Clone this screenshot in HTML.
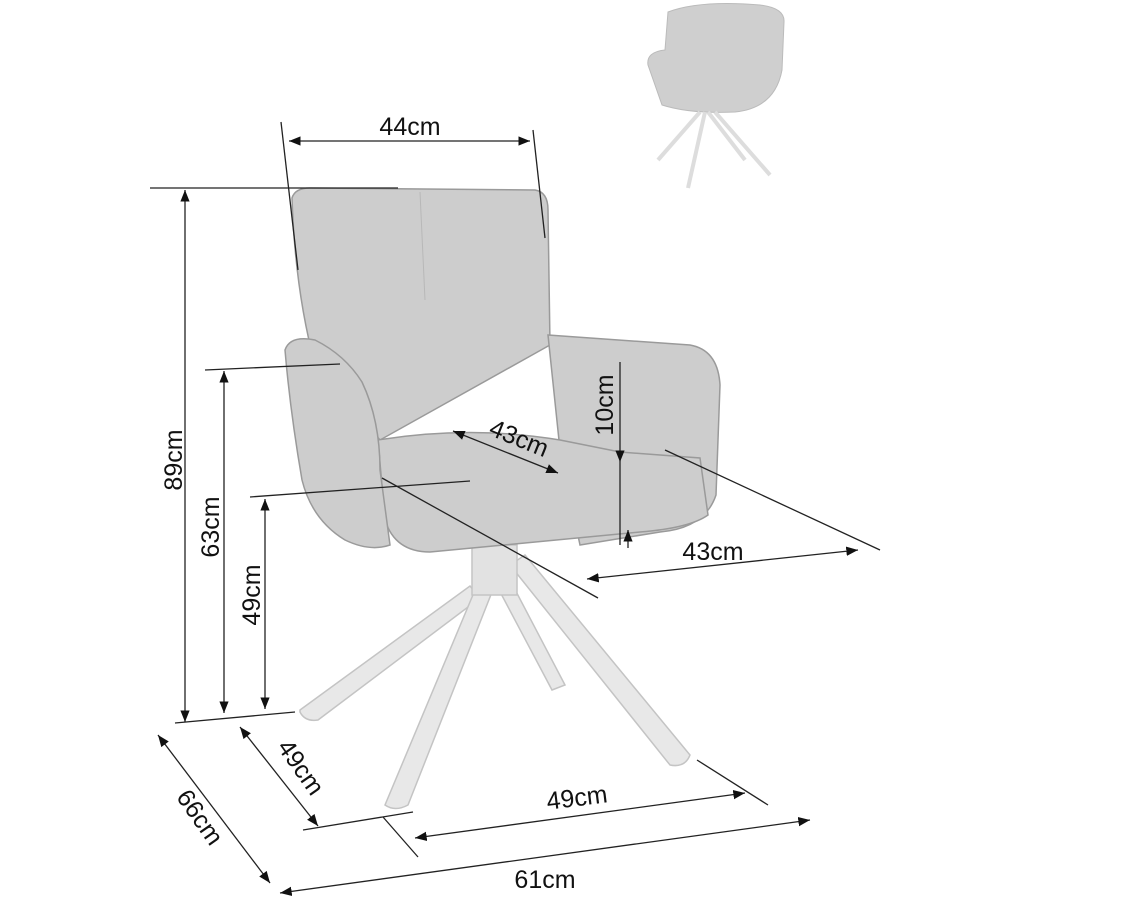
<!DOCTYPE html>
<html><head><meta charset="utf-8"><style>
html,body{margin:0;padding:0;background:#fff;}
svg{display:block;}
text{font-family:"Liberation Sans",sans-serif;font-size:25px;fill:#111;}
</style></head><body>
<svg width="1123" height="907" viewBox="0 0 1123 907" xmlns="http://www.w3.org/2000/svg">
<defs>
<marker id="a" viewBox="0 0 10 10" refX="10" refY="5" markerWidth="9" markerHeight="9" orient="auto-start-reverse"><path d="M0,1 L10,5 L0,9 z" fill="#111"/></marker>
</defs>
<!-- small chair top right -->
<g fill="#cfcfcf" stroke="#bbb" stroke-width="1">
<path d="M668,12 Q700,0 760,5 Q785,8 784,22 L782,70 Q775,108 735,112 Q690,114 662,105 L648,65 Q646,52 665,50 z"/>
</g>
<g stroke="#ddd" stroke-width="4" fill="none">
<line x1="700" y1="112" x2="658" y2="160"/><line x1="705" y1="112" x2="688" y2="188"/>
<line x1="715" y1="112" x2="770" y2="175"/><line x1="708" y1="112" x2="745" y2="160"/>
</g>
<!-- legs -->
<g fill="#e8e8e8" stroke="#c4c4c4" stroke-width="1.5">
<path d="M300,710 L470,586 L480,598 L318,720 Q305,722 300,712 z"/>
<path d="M498,588 L510,580 L565,685 L552,690 z"/>
<path d="M475,590 L492,592 L408,805 Q395,812 385,805 z"/>
<path d="M510,565 L525,555 L690,755 Q685,768 670,765 z"/>
<rect x="472" y="545" width="45" height="50" fill="#e2e2e2"/>
</g>
<!-- chair body -->
<g fill="#cdcdcd" stroke="#9a9a9a" stroke-width="1.5">
<path d="M292,198 Q295,188 310,188 L535,190 Q548,192 548,210 L550,345 L380,440 L315,365 Q295,290 292,198 z"/>
<path d="M548,335 L690,345 Q718,350 720,385 L716,495 Q705,528 660,532 L580,545 L560,450 z"/>
<path d="M378,440 Q470,425 560,440 L620,452 L700,458 L708,515 Q690,528 640,532 L430,552 Q395,552 385,520 z"/>
<path d="M285,350 Q290,335 315,340 Q345,355 362,382 Q380,420 380,470 L390,545 Q370,552 345,540 Q312,520 302,480 Q290,410 285,350 z"/>
</g>
<line x1="420" y1="192" x2="425" y2="300" stroke="#b8b8b8" stroke-width="1"/>
<!-- dimension lines -->
<g stroke="#222" stroke-width="1.3" fill="none">
<line x1="281" y1="122" x2="298" y2="270"/><line x1="533" y1="130" x2="545" y2="238"/>
<line x1="289" y1="141" x2="530" y2="141" marker-start="url(#a)" marker-end="url(#a)"/>
<line x1="150" y1="188" x2="398" y2="188"/>
<line x1="185" y1="190" x2="185" y2="722" marker-start="url(#a)" marker-end="url(#a)"/>
<line x1="205" y1="370" x2="340" y2="364"/>
<line x1="224" y1="371" x2="224" y2="713" marker-start="url(#a)" marker-end="url(#a)"/>
<line x1="250" y1="497" x2="470" y2="481"/>
<line x1="265" y1="499" x2="265" y2="709" marker-start="url(#a)" marker-end="url(#a)"/>
<line x1="175" y1="723" x2="295" y2="712"/>
<line x1="620" y1="362" x2="620" y2="462" marker-end="url(#a)"/>
<line x1="620" y1="462" x2="620" y2="545"/>
<line x1="628" y1="548" x2="628" y2="530" marker-end="url(#a)"/>
<line x1="453" y1="431" x2="558" y2="473" marker-start="url(#a)" marker-end="url(#a)"/>
<line x1="665" y1="450" x2="880" y2="550"/>
<line x1="382" y1="478" x2="598" y2="598"/>
<line x1="587" y1="579" x2="858" y2="550" marker-start="url(#a)" marker-end="url(#a)"/>
<line x1="158" y1="735" x2="270" y2="883" marker-start="url(#a)" marker-end="url(#a)"/>
<line x1="240" y1="727" x2="318" y2="826" marker-start="url(#a)" marker-end="url(#a)"/>
<line x1="303" y1="830" x2="413" y2="812"/>
<line x1="383" y1="817" x2="418" y2="857"/>
<line x1="697" y1="760" x2="768" y2="805"/>
<line x1="415" y1="838" x2="745" y2="793" marker-start="url(#a)" marker-end="url(#a)"/>
<line x1="280" y1="893" x2="810" y2="820" marker-start="url(#a)" marker-end="url(#a)"/>
</g>
<!-- labels -->
<text x="410" y="135" text-anchor="middle">44cm</text>
<text transform="translate(182,460) rotate(-90)" text-anchor="middle">89cm</text>
<text transform="translate(219,527) rotate(-90)" text-anchor="middle">63cm</text>
<text transform="translate(260,595) rotate(-90)" text-anchor="middle">49cm</text>
<text transform="translate(613,405) rotate(-90)" text-anchor="middle">10cm</text>
<text transform="translate(516,446) rotate(22)" text-anchor="middle">43cm</text>
<text x="713" y="560" text-anchor="middle">43cm</text>
<text transform="translate(193,822) rotate(55)" text-anchor="middle">66cm</text>
<text transform="translate(294,772) rotate(55)" text-anchor="middle">49cm</text>
<text transform="translate(578,806) rotate(-7)" text-anchor="middle">49cm</text>
<text x="545" y="888" text-anchor="middle">61cm</text>
</svg>
</body></html>
